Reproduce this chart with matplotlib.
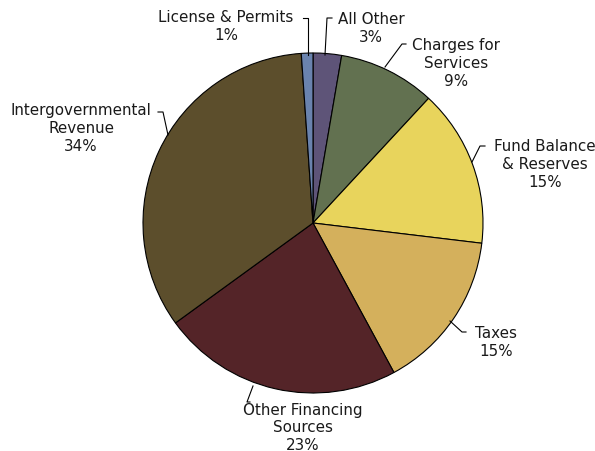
import matplotlib
matplotlib.use("Agg")
import matplotlib.pyplot as plt

categories = ["All Other", "Charges for\nServices", "Fund Balance\n& Reserves", "Taxes",
              "Other Financing\nSources", "Intergovernmental\nRevenue", "License & Permits"]
values = [2.7, 9.2, 15.0, 15.2, 22.9, 33.9, 1.1]
colors = ["#5E5478", "#627150", "#E8D45C", "#D4B05C", "#542428", "#5C4E2C", "#6A83AE"]

# label centres and leader lines, in pixels of the 595x452 image
label_px = [(371, 28), (456, 64), (545, 165), (496, 342), (303, 428), (81, 129), (226, 27)]
leader_px = [
    [(332, 19), (327, 19), (325, 56)],
    [(406, 45), (402, 45), (385, 68)],
    [(485, 147), (480, 147), (472, 163)],
    [(466, 333), (462, 333), (450, 322)],
    [(250, 403), (247, 403), (253, 387)],
    [(158, 113), (163, 113), (168, 136)],
    [(303, 19), (308, 19), (308, 56)],
]

CX, CY, R = 313, 224, 170


def to_data(p):
    return (p[0] - CX) / R, (CY - p[1]) / R


fig = plt.figure(figsize=(5.95, 4.52), dpi=100)
ax = fig.add_axes([0, 0, 1, 1])
ax.pie(values, colors=colors, startangle=90, counterclock=False, radius=1,
       wedgeprops=dict(edgecolor="black", linewidth=0.8))
ax.set_xlim(-CX / R, (595 - CX) / R)
ax.set_ylim(-(452 - CY) / R, CY / R)
ax.set_aspect("equal")
ax.axis("off")

for cat, v, lp, ld in zip(categories, values, label_px, leader_px):
    x, y = to_data(lp)
    ax.text(x, y, f"{cat}\n{round(v)}%", ha="center", va="center", fontsize=10.9,
            family="DejaVu Sans", color="#1a1a1a", linespacing=1.25)
    pts = [to_data(p) for p in ld]
    ax.plot([p[0] for p in pts], [p[1] for p in pts], color="black", lw=0.8)

fig.savefig("out.png", dpi=100)
